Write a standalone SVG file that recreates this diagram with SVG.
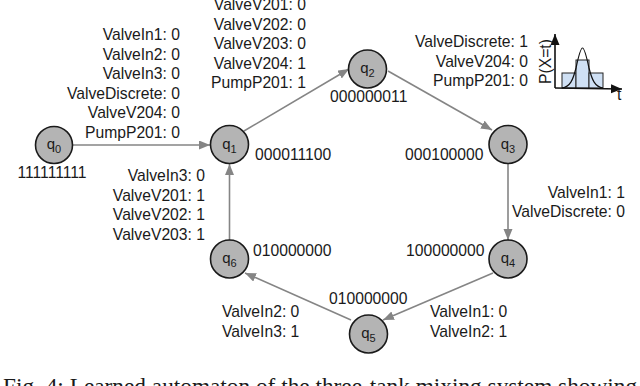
<svg xmlns="http://www.w3.org/2000/svg" width="640" height="386" viewBox="0 0 640 386">
<defs>
<style>
text{font-family:"Liberation Sans",Arial,sans-serif;font-size:15.7px;fill:#1a1a1a}
.e{text-anchor:end}
.m{text-anchor:middle}
.node circle{fill:#b4b4b4;stroke:#1a1a1a;stroke-width:1.6}
.q{font-size:15px;text-anchor:middle}
.sub{font-size:11px}
.edge{stroke:#858585;stroke-width:1.6;fill:none;marker-end:url(#ah)}
.cap{font-family:"Liberation Serif","Times New Roman",serif;font-size:23.3px;fill:#1a1a1a}
</style>
<marker id="ah" markerUnits="userSpaceOnUse" markerWidth="12" markerHeight="10" refX="11" refY="4.5" orient="auto">
<path d="M0,0 L11,4.5 L0,9 z" fill="#858585"/>
</marker>
<marker id="bk" markerUnits="userSpaceOnUse" markerWidth="12" markerHeight="10" refX="11" refY="4.5" orient="auto">
<path d="M0,0 L11,4.5 L0,9 z" fill="#111"/>
</marker>
</defs>
<rect width="640" height="386" fill="#fff"/>

<g id="connectors">
<line class="edge" x1="73" y1="145" x2="210" y2="145"/>
<line class="edge" x1="244" y1="131" x2="349" y2="69"/>
<line class="edge" x1="388" y1="71" x2="492" y2="130"/>
<line class="edge" x1="508" y1="163" x2="508" y2="240"/>
<line class="edge" x1="493" y1="273" x2="383" y2="320"/>
<line class="edge" x1="351" y1="320" x2="245" y2="273"/>
<line class="edge" x1="229.5" y1="240" x2="229.5" y2="164"/>
</g>

<g id="label-q0-q1">
<text class="e" x="180" y="40">ValveIn1: 0</text>
<text class="e" x="180" y="59.5">ValveIn2: 0</text>
<text class="e" x="180" y="79">ValveIn3: 0</text>
<text class="e" x="180" y="98.5">ValveDiscrete: 0</text>
<text class="e" x="180" y="118">ValveV204: 0</text>
<text class="e" x="180" y="137.5">PumpP201: 0</text>
</g>
<g id="label-q1-q2">
<text class="e" x="306" y="10">ValveV201: 0</text>
<text class="e" x="306" y="29.5">ValveV202: 0</text>
<text class="e" x="306" y="49">ValveV203: 0</text>
<text class="e" x="306" y="68.5">ValveV204: 1</text>
<text class="e" x="306" y="88">PumpP201: 1</text>
</g>
<g id="label-q2-q3">
<text class="e" x="528" y="47">ValveDiscrete: 1</text>
<text class="e" x="528" y="66.5">ValveV204: 0</text>
<text class="e" x="528" y="86">PumpP201: 0</text>
</g>
<g id="label-q6-q1">
<text class="e" x="205" y="181">ValveIn3: 0</text>
<text class="e" x="205" y="200.5">ValveV201: 1</text>
<text class="e" x="205" y="220">ValveV202: 1</text>
<text class="e" x="205" y="239.5">ValveV203: 1</text>
</g>
<g id="label-q3-q4">
<text class="e" x="625" y="197.5">ValveIn1: 1</text>
<text class="e" x="625" y="217">ValveDiscrete: 0</text>
</g>
<g id="label-q4-q5">
<text x="430" y="317">ValveIn1: 0</text>
<text x="430" y="336.5">ValveIn2: 1</text>
</g>
<g id="label-q5-q6">
<text x="222" y="317">ValveIn2: 0</text>
<text x="222" y="336.5">ValveIn3: 1</text>
</g>

<g id="q0" class="node">
<circle cx="54" cy="145" r="18.5"/>
<text class="q" x="54" y="149">q<tspan class="sub" dy="4">0</tspan></text>
<text class="m" x="52" y="178">111111111</text>
</g>
<g id="q1" class="node">
<circle cx="229.5" cy="144.5" r="19"/>
<text class="q" x="229.5" y="148.5">q<tspan class="sub" dy="4">1</tspan></text>
<text x="255" y="160">000011100</text>
</g>
<g id="q2" class="node">
<circle cx="367.5" cy="69" r="19"/>
<text class="q" x="367.5" y="73">q<tspan class="sub" dy="4">2</tspan></text>
<text x="330" y="102">000000011</text>
</g>
<g id="q3" class="node">
<circle cx="508" cy="144.5" r="19"/>
<text class="q" x="508" y="148.5">q<tspan class="sub" dy="4">3</tspan></text>
<text x="405" y="160">000100000</text>
</g>
<g id="q4" class="node">
<circle cx="508" cy="259" r="19"/>
<text class="q" x="508" y="263">q<tspan class="sub" dy="4">4</tspan></text>
<text x="406" y="256">100000000</text>
</g>
<g id="q5" class="node">
<circle cx="368.5" cy="334" r="19"/>
<text class="q" x="368.5" y="338">q<tspan class="sub" dy="4">5</tspan></text>
<text x="329" y="304">010000000</text>
</g>
<g id="q6" class="node">
<circle cx="229.5" cy="259" r="19"/>
<text class="q" x="229.5" y="263">q<tspan class="sub" dy="4">6</tspan></text>
<text x="253" y="256">010000000</text>
</g>

<g id="chart">
<rect x="562" y="73" width="14" height="15" fill="#cfe0f4" stroke="#222" stroke-width="1"/>
<rect x="576" y="60" width="13" height="28" fill="#cfe0f4" stroke="#222" stroke-width="1"/>
<rect x="589" y="73" width="14" height="15" fill="#cfe0f4" stroke="#222" stroke-width="1"/>
<path d="M562,88 C570,87 573,80 576,68 C579,54 581,48 582.5,48 C584,48 586,54 589,68 C592,80 595,87 603,88" fill="none" stroke="#111" stroke-width="1.2"/>
<line x1="555" y1="88" x2="555" y2="34" stroke="#111" stroke-width="1.6" marker-end="url(#bk)"/>
<line x1="555" y1="88" x2="622" y2="89" stroke="#111" stroke-width="1.6" marker-end="url(#bk)"/>
<text x="617" y="100">t</text>
<text class="m" transform="translate(551,61.5) rotate(-90)">P(X=t)</text>
</g>

<text class="cap" x="3" y="393.5">Fig. 4: Learned automaton of the three-tank mixing system showing</text>
</svg>
